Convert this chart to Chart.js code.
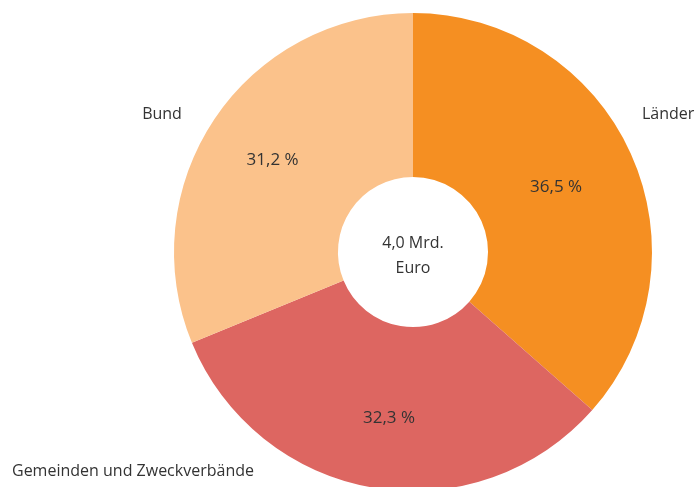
<!DOCTYPE html>
<html>
<head>
<meta charset="utf-8">
<script src="https://cdn.jsdelivr.net/npm/chart.js@4/dist/chart.umd.min.js"></script>
<style>
  html, body { margin: 0; padding: 0; background: #fff; overflow: hidden; }
  #wrap { width: 700px; height: 500px; }
</style>
</head>
<body>
<div id="wrap"><canvas id="chart" width="700" height="500"></canvas></div>
<script>
// Data
const categories = ['Länder', 'Gemeinden und Zweckverbände', 'Bund'];
const shares = [36.5, 32.3, 31.2];
const shareLabels = ['36,5 %', '32,3 %', '31,2 %'];
const sliceColors = ['#F58F22', '#DD6661', '#FBC28B'];
const centerLines = ['4,0 Mrd.', 'Euro'];

const FONT = '"Open Sans", sans-serif';
const TEXT_COLOR = '#333333';

// label anchors for category names, relative to the doughnut centre
const nameOffsets = [
  { dx: 229, dy: -138, align: 'left' },
  { dx: -401, dy: 219, align: 'left' },
  { dx: -251, dy: -138, align: 'center' }
];
// small nudges of the percentage labels from the segment midpoints
const shareNudges = [
  { dx: 0, dy: 0 },
  { dx: 2, dy: 11 },
  { dx: -10, dy: -4 }
];

const labelPlugin = {
  id: 'labels',
  afterDatasetsDraw(chart) {
    const ctx = chart.ctx;
    const meta = chart.getDatasetMeta(0);
    const cx = meta.data[0].x;
    const cy = meta.data[0].y;
    ctx.save();
    ctx.fillStyle = TEXT_COLOR;
    ctx.textBaseline = 'middle';

    // percentages in the middle of each ring segment
    ctx.font = '17px ' + FONT;
    ctx.textAlign = 'center';
    meta.data.forEach((arc, i) => {
      const pos = arc.tooltipPosition();
      ctx.fillText(shareLabels[i], pos.x + shareNudges[i].dx, pos.y + shareNudges[i].dy);
    });

    // category names outside
    ctx.font = '16px ' + FONT;
    categories.forEach((name, i) => {
      const o = nameOffsets[i];
      ctx.textAlign = o.align;
      ctx.fillText(name, cx + o.dx, cy + o.dy);
    });

    // centre text
    ctx.textAlign = 'center';
    ctx.fillText(centerLines[0], cx, cy - 9);
    ctx.fillText(centerLines[1], cx, cy + 16);
    ctx.restore();
  }
};

new Chart(document.getElementById('chart'), {
  type: 'doughnut',
  data: {
    labels: categories,
    datasets: [{
      data: shares,
      backgroundColor: sliceColors,
      borderWidth: 0,
      hoverOffset: 0
    }]
  },
  options: {
    responsive: false,
    animation: false,
    cutout: '31.4%',
    layout: { padding: { left: 174, right: 48, top: 13, bottom: 9 } },
    plugins: {
      legend: { display: false },
      tooltip: { enabled: false }
    }
  },
  plugins: [labelPlugin]
});
</script>
</body>
</html>
